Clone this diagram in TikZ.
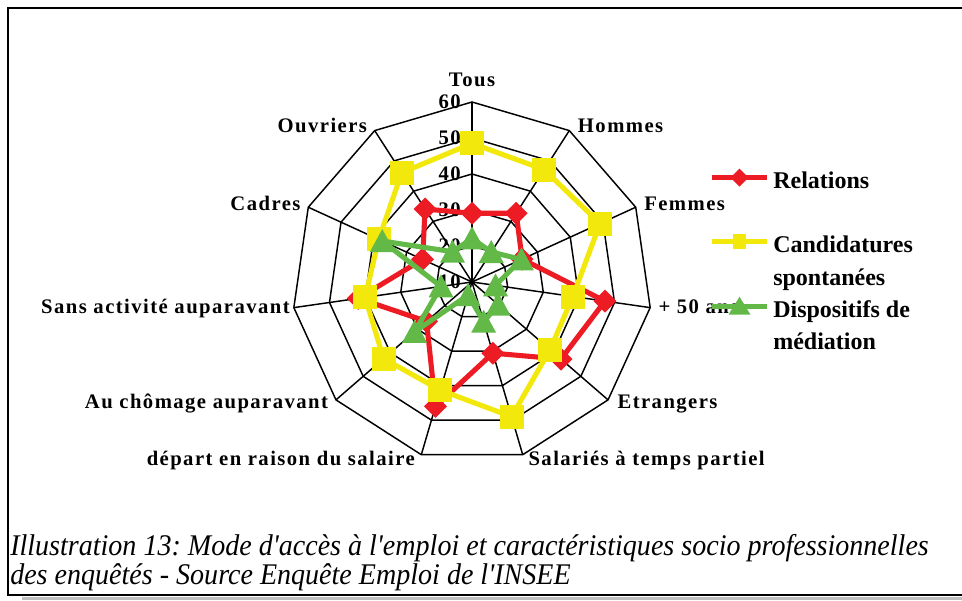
\documentclass[tikz,border=0pt]{standalone}
\usepackage{fontspec}
\setmainfont{Liberation Serif}
\newfontfamily\lblfont[LetterSpace=7]{Liberation Serif}
\frenchspacing
\definecolor{relc}{RGB}{237,28,36}
\definecolor{canc}{RGB}{242,232,12}
\definecolor{disc}{RGB}{98,185,72}
\tikzset{
  gridline/.style={line width=1.1pt, black},
  serline/.style={line width=3.8pt, line join=round},
  lbl/.style={font=\lblfont\bfseries\fontsize{15.5}{18}\selectfont, inner sep=0pt},
  legtxt/.style={font=\bfseries\fontsize{18}{21}\selectfont, inner sep=0pt, anchor=base west},
  captxt/.style={font=\itshape\fontsize{22.5}{27}\selectfont, inner sep=0pt, anchor=base west},
  diam/.pic={\fill[relc] (-11.5,0) -- (0,-11.5) -- (11.5,0) -- (0,11.5) -- cycle;},
  sq/.pic={\fill[canc] (-12,-12) rectangle (12,12);},
  tri/.pic={\fill[disc] (0,-12) -- (12.5,11) -- (-12.5,11) -- cycle;},
  ldiam/.pic={\fill[relc] (-9,0) -- (0,-9) -- (9,0) -- (0,9) -- cycle;},
  lsq/.pic={\fill[canc] (-6.5,-7.5) rectangle (6.5,7.5);},
  ltri/.pic={\fill[disc] (0,-10) -- (11,8) -- (-11,8) -- cycle;}
}
\begin{document}
\begin{tikzpicture}[x=0.75pt,y=-0.75pt]
\useasboundingbox (0,0) rectangle (962,600);
\fill[white] (0,0) rectangle (962,600);
\fill[black!25] (21.7,596.5) rectangle (962,600);
\draw[line width=1.5pt] (962,8) -- (7.5,8) -- (7.5,595) -- (962,595);

\coordinate (c) at (472,282);
% grid
\foreach \i in {0,...,10} {
  \coordinate (v\i) at ([shift={(c)}]{\i*360/11-90}:180);
  \draw[gridline] (c) -- (v\i);
}
\foreach \r in {36,72,108,144,180} {
  \draw[gridline] ([shift={(c)}]-90:\r) \foreach \i in {1,...,10} { -- ([shift={(c)}]{\i*360/11-90}:\r) } -- cycle;
}
% axis labels
\foreach \v/\y in {60/102,50/138,40/174,30/210,20/246,10/282} {
  \node[lbl, anchor=east] (ax\v) at (461,\y) {\v};
}
% category labels
\node[lbl, anchor=base] (lTous) at (472,86) {Tous};
\node[lbl, anchor=base west] (lHom) at (577.7,132.7) {Hommes};
\node[lbl, anchor=base west] (lFem) at (644,210) {Femmes};
\node[lbl, anchor=base west] (lPlus) at (658.3,313.3) {+ 50 ans};
\node[lbl, anchor=base west] (lEtr) at (617.3,408.3) {Etrangers};
\node[lbl, anchor=base west] (lSal) at (528.3,465) {Salariés à temps partiel};
\node[lbl, anchor=base east] (lDep) at (415,465) {départ en raison du salaire};
\node[lbl, anchor=base east] (lCho) at (328.3,408.3) {Au chômage auparavant};
\node[lbl, anchor=base east] (lSans) at (290,313.3) {Sans activité auparavant};
\node[lbl, anchor=base east] (lCad) at (300.7,210) {Cadres};
\node[lbl, anchor=base east] (lOuv) at (367.3,132.7) {Ouvriers};

% data
\foreach \v [count=\i from 0] in {29.1,32.7,25.3,47.3,42.7,30.6,46,26.7,41.9,25.1,34.1} {
  \coordinate (r\i) at ([shift={(c)}]{\i*360/11-90}:{(\v-10)*3.6});
}
\foreach \v [count=\i from 0] in {48.5,47.1,49.1,38.3,38.7,49,41.3,42.5,40,38.5,46.1} {
  \coordinate (y\i) at ([shift={(c)}]{\i*360/11-90}:{(\v-10)*3.6});
}
\foreach \v [count=\i from 0] in {22.1,19.9,25.1,16.6,19.6,21.5,13.8,31.1,18.7,37.4,20} {
  \coordinate (g\i) at ([shift={(c)}]{\i*360/11-90}:{(\v-10)*3.6});
}
% Relations
\draw[serline, relc] (r0) \foreach \i in {1,...,10} { -- (r\i) } -- cycle;
\foreach \i in {0,...,10} { \pic at (r\i) {diam}; }
% Candidatures
\draw[serline, canc] (y0) \foreach \i in {1,...,10} { -- (y\i) } -- cycle;
\foreach \i in {0,...,10} { \pic at (y\i) {sq}; }
% Dispositifs
\draw[serline, disc] (g0) \foreach \i in {1,...,10} { -- (g\i) } -- cycle;
\foreach \i in {0,...,10} { \pic at (g\i) {tri}; }

% legend
\coordinate (lr1) at (712,177.7); \coordinate (lr2) at (767,177.7); \coordinate (lrm) at (739.5,177.7);
\coordinate (ly1) at (712,241.7); \coordinate (ly2) at (767,241.7); \coordinate (lym) at (739.5,241.7);
\coordinate (lg1) at (712,306.7); \coordinate (lg2) at (767,306.7); \coordinate (lgm) at (739.5,306.7);
\draw[serline, relc, line cap=butt] (lr1) -- (lr2);
\pic at (lrm) {ldiam};
\draw[serline, canc, line cap=butt] (ly1) -- (ly2);
\pic at (lym) {lsq};
\draw[serline, disc, line cap=butt] (lg1) -- (lg2);
\pic at (lgm) {ltri};
\node[legtxt] (tRel) at (773,188.3) {Relations};
\node[legtxt] (tCan1) at (773,252.7) {Candidatures};
\node[legtxt] (tCan2) at (773,285) {spontanées};
\node[legtxt] (tDis1) at (773,317.7) {Dispositifs de};
\node[legtxt] (tDis2) at (773,349) {médiation};

% caption
\node[captxt] (cap1) at (10,555) {\scalebox{0.935}[1]{Illustration 13: Mode d\textquotesingle accès à l\textquotesingle emploi et caractéristiques socio professionnelles}};
\node[captxt] (cap2) at (10,584) {\scalebox{0.935}[1]{des enquêtés - Source Enquête Emploi de l\textquotesingle INSEE}};
\end{tikzpicture}
\end{document}
